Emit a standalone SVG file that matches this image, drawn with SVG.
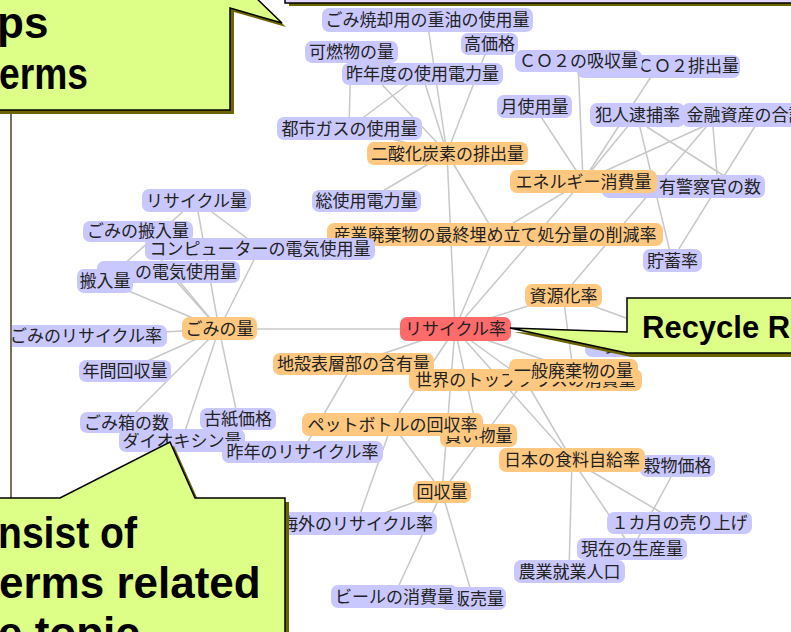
<svg xmlns="http://www.w3.org/2000/svg" width="791" height="632" viewBox="0 0 791 632">
<defs>
<style>
.e line{stroke:#c8c8c8;stroke-width:1.5}
.lv rect{fill:#c8c8ff}
.or rect{fill:#ffc880}
.rd rect{fill:#ff6a6a}
.n text{font-family:"Noto Sans CJK JP","Noto Sans CJK SC",sans-serif;font-size:17px;fill:#222;text-anchor:middle}
.n text.r{text-anchor:end}
.co{fill:#ddff88;stroke:#000;stroke-width:1.5}
.sh{fill:#6b6400}
.ct{font-family:"Liberation Sans",Arial,sans-serif;font-weight:bold;font-size:44px;fill:#000}
</style>
<clipPath id="panel"><rect x="12" y="0" width="779" height="632"/></clipPath>
</defs>
<rect width="791" height="632" fill="#fff"/>
<line x1="11" y1="100" x2="11" y2="510" stroke="#7a7060" stroke-width="2"/>
<g clip-path="url(#panel)">
<g id="connectors" class="e">
<line x1="455" y1="329" x2="219" y2="329"/>
<line x1="455" y1="329" x2="447" y2="153"/>
<line x1="455" y1="329" x2="583" y2="181"/>
<line x1="455" y1="329" x2="495" y2="234"/>
<line x1="455" y1="329" x2="563" y2="295"/>
<line x1="455" y1="329" x2="353" y2="364"/>
<line x1="455" y1="329" x2="525" y2="380"/>
<line x1="455" y1="329" x2="573" y2="370"/>
<line x1="455" y1="329" x2="392" y2="424"/>
<line x1="455" y1="329" x2="478" y2="435"/>
<line x1="455" y1="329" x2="572" y2="460"/>
<line x1="455" y1="329" x2="442" y2="492"/>
<line x1="447" y1="153" x2="427" y2="20"/>
<line x1="447" y1="153" x2="489" y2="44"/>
<line x1="447" y1="153" x2="351" y2="52"/>
<line x1="447" y1="153" x2="422" y2="74"/>
<line x1="447" y1="153" x2="349" y2="128"/>
<line x1="447" y1="153" x2="366" y2="201"/>
<line x1="447" y1="153" x2="495" y2="234"/>
<line x1="351" y1="52" x2="349" y2="128"/>
<line x1="349" y1="128" x2="422" y2="74"/>
<line x1="583" y1="181" x2="534" y2="106"/>
<line x1="583" y1="181" x2="578" y2="61"/>
<line x1="583" y1="181" x2="658" y2="66"/>
<line x1="583" y1="181" x2="637" y2="115"/>
<line x1="583" y1="181" x2="722" y2="118"/>
<line x1="583" y1="181" x2="683" y2="186"/>
<line x1="583" y1="181" x2="495" y2="234"/>
<line x1="637" y1="115" x2="672" y2="260"/>
<line x1="762" y1="115" x2="672" y2="260"/>
<line x1="712" y1="120" x2="563" y2="295"/>
<line x1="647" y1="127" x2="740" y2="186"/>
<line x1="712" y1="115" x2="718" y2="186"/>
<line x1="219" y1="329" x2="196" y2="200"/>
<line x1="219" y1="329" x2="138" y2="232"/>
<line x1="219" y1="329" x2="260" y2="248"/>
<line x1="219" y1="329" x2="168" y2="272"/>
<line x1="219" y1="329" x2="105" y2="281"/>
<line x1="219" y1="329" x2="86" y2="336"/>
<line x1="219" y1="329" x2="125" y2="371"/>
<line x1="219" y1="329" x2="126" y2="422"/>
<line x1="219" y1="329" x2="182" y2="440"/>
<line x1="219" y1="329" x2="238" y2="419"/>
<line x1="196" y1="200" x2="260" y2="248"/>
<line x1="196" y1="200" x2="105" y2="281"/>
<line x1="353" y1="364" x2="302" y2="452"/>
<line x1="392" y1="424" x2="357" y2="523"/>
<line x1="392" y1="424" x2="442" y2="492"/>
<line x1="525" y1="380" x2="442" y2="492"/>
<line x1="525" y1="380" x2="572" y2="460"/>
<line x1="442" y1="492" x2="357" y2="523"/>
<line x1="442" y1="492" x2="394" y2="596"/>
<line x1="442" y1="492" x2="473" y2="598"/>
<line x1="572" y1="460" x2="569" y2="571"/>
<line x1="572" y1="460" x2="632" y2="549"/>
<line x1="572" y1="460" x2="679" y2="523"/>
<line x1="572" y1="460" x2="677" y2="466"/>
<line x1="677" y1="466" x2="632" y2="549"/>
<line x1="563" y1="295" x2="573" y2="370"/>
<line x1="563" y1="295" x2="700" y2="345"/>
</g>
<g id="n-gomishokyaku" class="n lv"><rect x="322" y="8" width="211" height="24" rx="7"/><text x="427.5" y="26">ごみ焼却用の重油の使用量</text></g>
<g id="n-kounou" class="n lv"><rect x="461" y="33" width="57" height="22" rx="7"/><text x="489.5" y="50">高価格</text></g>
<g id="n-kanen" class="n lv"><rect x="305" y="41" width="93" height="22" rx="7"/><text x="351.5" y="58">可燃物の量</text></g>
<g id="n-sakunendo" class="n lv"><rect x="342" y="63" width="161" height="22" rx="7"/><text x="422.5" y="80">昨年度の使用電力量</text></g>
<g id="n-co2haishutsu" class="n lv"><rect x="577" y="55" width="163" height="23" rx="7"/><text class="r" x="739" y="72">ＣＯ２排出量</text></g>
<g id="n-co2kyushu" class="n lv"><rect x="515" y="50" width="127" height="22" rx="7"/><text x="578.5" y="67">ＣＯ２の吸収量</text></g>
<g id="n-tsuki" class="n lv"><rect x="497" y="95" width="75" height="23" rx="7"/><text x="534.5" y="112.5">月使用量</text></g>
<g id="n-hannin" class="n lv"><rect x="590" y="103" width="95" height="24" rx="7"/><text x="637.5" y="121">犯人逮捕率</text></g>
<g id="n-kinyu" class="n lv"><rect x="682" y="103" width="130" height="24" rx="7"/><text x="746" y="121">金融資産の合計</text></g>
<g id="n-toshigas" class="n lv"><rect x="277" y="117" width="145" height="23" rx="7"/><text x="349.5" y="134.5">都市ガスの使用量</text></g>
<g id="n-nisanka" class="n or"><rect x="367" y="142" width="161" height="23" rx="7"/><text x="447.5" y="159.5">二酸化炭素の排出量</text></g>
<g id="n-keisatsu" class="n lv"><rect x="602" y="175" width="163" height="23" rx="7"/><text class="r" x="761" y="192.5">有警察官の数</text></g>
<g id="n-energy" class="n or"><rect x="510" y="170" width="147" height="23" rx="7"/><text x="583.5" y="187.5">エネルギー消費量</text></g>
<g id="n-soushiyou" class="n lv"><rect x="312" y="190" width="109" height="22" rx="7"/><text x="366.5" y="207">総使用電力量</text></g>
<g id="n-sangyo" class="n or"><rect x="327" y="223" width="336" height="23" rx="7"/><text x="495" y="240.5">産業廃棄物の最終埋め立て処分量の削減率</text></g>
<g id="n-chochiku" class="n lv"><rect x="643" y="249" width="59" height="23" rx="7"/><text x="672.5" y="266.5">貯蓄率</text></g>
<g id="n-shigenka" class="n or"><rect x="525" y="284" width="77" height="23" rx="7"/><text x="563.5" y="301.5">資源化率</text></g>
<g id="n-shigen2" class="n lv"><rect x="585" y="334" width="70" height="23" rx="7"/><text x="622" y="351.5">資源</text></g>
<g id="n-recycleryo" class="n lv"><rect x="142" y="189" width="109" height="23" rx="7"/><text x="196.5" y="206.5">リサイクル量</text></g>
<g id="n-computer" class="n lv"><rect x="145" y="238" width="230" height="22" rx="7"/><text x="260" y="255">コンピューターの電気使用量</text></g>
<g id="n-gomihannyu" class="n lv"><rect x="83" y="221" width="110" height="21" rx="7"/><text x="138" y="237">ごみの搬入量</text></g>
<g id="n-denki" class="n lv"><rect x="97" y="261" width="143" height="22" rx="7"/><text class="r" x="237" y="278">の電気使用量</text></g>
<g id="n-hannyu" class="n lv"><rect x="77" y="269" width="56" height="24" rx="7"/><text x="105" y="287">搬入量</text></g>
<g id="n-gominoryo" class="n or"><rect x="182" y="317" width="75" height="23" rx="7"/><text x="219.5" y="334.5">ごみの量</text></g>
<g id="n-gomirecycle" class="n lv"><rect x="4" y="325" width="163" height="22" rx="7"/><text x="86" y="342">ごみのリサイクル率</text></g>
<g id="n-nenkan" class="n lv"><rect x="79" y="360" width="92" height="22" rx="7"/><text x="125" y="377">年間回収量</text></g>
<g id="n-chikaku" class="n or"><rect x="273" y="353" width="161" height="22" rx="7"/><text x="353.5" y="370">地殻表層部の含有量</text></g>
<g id="n-sekai" class="n or"><rect x="409" y="369" width="233" height="22" rx="7"/><text x="525.5" y="386">世界のトップクラスの消費量</text></g>
<g id="n-ippan" class="n or"><rect x="509" y="359" width="129" height="23" rx="7"/><text x="573.5" y="376.5">一般廃棄物の量</text></g>
<g id="n-dioxin" class="n lv"><rect x="119" y="429" width="126" height="23" rx="7"/><text x="182" y="446.5">ダイオキシン量</text></g>
<g id="n-gomibako" class="n lv"><rect x="80" y="412" width="93" height="21" rx="7"/><text x="126.5" y="428.5">ごみ箱の数</text></g>
<g id="n-koshi" class="n lv"><rect x="200" y="408" width="76" height="22" rx="7"/><text x="238" y="425">古紙価格</text></g>
<g id="n-sakunen" class="n lv"><rect x="222" y="441" width="161" height="22" rx="7"/><text x="302.5" y="458">昨年のリサイクル率</text></g>
<g id="n-kaimono" class="n or"><rect x="440" y="424" width="77" height="23" rx="7"/><text x="478.5" y="441.5">買い物量</text></g>
<g id="n-pet" class="n or"><rect x="302" y="413" width="181" height="23" rx="7"/><text x="392.5" y="430.5">ペットボトルの回収率</text></g>
<g id="n-kokumotsu" class="n lv"><rect x="640" y="455" width="75" height="22" rx="7"/><text x="677.5" y="472">穀物価格</text></g>
<g id="n-nihon" class="n or"><rect x="499" y="448" width="146" height="24" rx="7"/><text x="572" y="466">日本の食料自給率</text></g>
<g id="n-kaishu" class="n or"><rect x="413" y="481" width="58" height="22" rx="7"/><text x="442" y="498">回収量</text></g>
<g id="n-kaigai" class="n lv"><rect x="277" y="512" width="160" height="23" rx="7"/><text x="357" y="529.5">海外のリサイクル率</text></g>
<g id="n-ikkagetsu" class="n lv"><rect x="607" y="512" width="145" height="22" rx="7"/><text x="679.5" y="529">１カ月の売り上げ</text></g>
<g id="n-genzai" class="n lv"><rect x="577" y="538" width="110" height="22" rx="7"/><text x="632" y="555">現在の生産量</text></g>
<g id="n-nogyo" class="n lv"><rect x="514" y="560" width="111" height="23" rx="7"/><text x="569.5" y="577.5">農業就業人口</text></g>
<g id="n-hanbai" class="n lv"><rect x="440" y="587" width="66" height="23" rx="7"/><text class="r" x="504" y="604.5">販売量</text></g>
<g id="n-beer" class="n lv"><rect x="331" y="585" width="127" height="23" rx="7"/><text x="394.5" y="602.5">ビールの消費量</text></g>
<g id="n-recycle" class="n rd"><rect x="400" y="317" width="111" height="24" rx="7"/><text x="455.5" y="335">リサイクル率</text></g>
</g>
<g id="callout-top">
<rect x="289" y="-10" width="520" height="16" class="sh"/>
<rect x="285" y="-14" width="520" height="17" fill="#e6d6ff" stroke="#000" stroke-width="1.5"/>
</g>
<g id="callout-topleft">
<polygon class="sh" points="-1,-1 257,-1 286,27 234,12 234,114 -1,114"/>
<polygon class="co" points="-5,-5 253,-5 282,23 230,8 230,110 -5,110"/>
<text class="ct" x="-3" y="38">ps</text>
<text class="ct" x="-1" y="89" textLength="89" lengthAdjust="spacingAndGlyphs">erms</text>
</g>
<g id="callout-bottomleft">
<polygon class="sh" points="-1,502 64,502 174,446 199,502 289,502 289,644 -1,644"/>
<polygon class="co" points="-5,498 60,498 170,442 195,498 285,498 285,640 -5,640"/>
<text class="ct" x="-2" y="548" textLength="139" lengthAdjust="spacingAndGlyphs">nsist of</text>
<text class="ct" x="-1" y="598">erms related</text>
<text class="ct" x="-2" y="648">e topic</text>
</g>
<g id="callout-right">
<polygon class="sh" points="631,302 804,302 804,357 631,357 514,332 631,336"/>
<polygon class="co" points="627,298 800,298 800,353 627,353 510,328 627,332"/>
<text class="ct" style="font-size:31px" x="642" y="338">Recycle R</text>
</g>
</svg>
